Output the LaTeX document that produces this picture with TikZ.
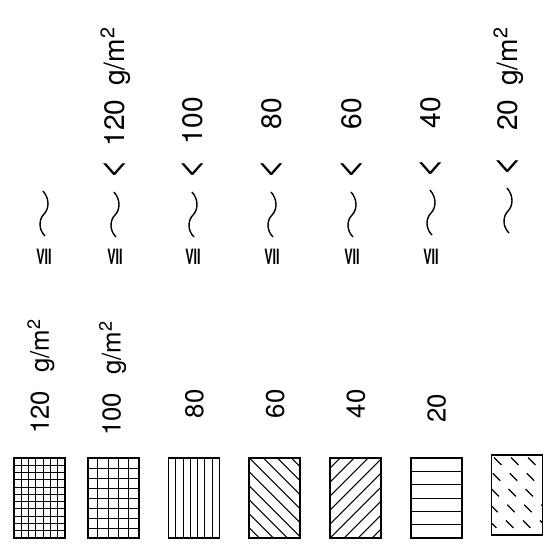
\documentclass[tikz,border=0pt]{standalone}
\usepackage{fontspec}
\setmainfont{TeX Gyre Heros}
\usetikzlibrary{positioning,calc}

\begin{document}
\begin{tikzpicture}[x=0.03cm, y=-0.03cm, node distance=0.84cm,
  lbl/.style={font=\fontsize{24}{24}\selectfont, rotate=90, anchor=east, inner sep=0pt, text height=17pt, text depth=0pt},
  sml/.style={lbl, font=\fontsize{22}{22}\selectfont, text height=16pt},
  rel/.style={font=\fontsize{30}{30}\selectfont, rotate=90, inner sep=0pt},
  rom/.style={font=\fontsize{18}{18}\selectfont\bfseries, inner sep=0pt},
  wave/.style={line width=1.2pt},
  legbox/.style={draw, line width=1.5pt, minimum width=1.53cm, minimum height=2.4cm, inner sep=0pt},
  fill line/.style={line width=0.8pt},
  vl/.style={path picture={
    \foreach \i [evaluate=\i as \fr using \i/(#1+1)] in {1,...,#1}
      \draw[fill line] ($(path picture bounding box.north west)!\fr!(path picture bounding box.north east)$)
        -- ($(path picture bounding box.south west)!\fr!(path picture bounding box.south east)$);}},
  hl/.style={path picture={
    \foreach \i [evaluate=\i as \fr using \i/(#1+1)] in {1,...,#1}
      \draw[fill line] ($(path picture bounding box.north west)!\fr!(path picture bounding box.south west)$)
        -- ($(path picture bounding box.north east)!\fr!(path picture bounding box.south east)$);}},
  mesh/.style 2 args={path picture={
    \foreach \i [evaluate=\i as \fr using \i/(#1+1)] in {1,...,#1}
      \draw[fill line] ($(path picture bounding box.north west)!\fr!(path picture bounding box.north east)$)
        -- ($(path picture bounding box.south west)!\fr!(path picture bounding box.south east)$);
    \foreach \i [evaluate=\i as \fr using \i/(#2+1)] in {1,...,#2}
      \draw[fill line] ($(path picture bounding box.north west)!\fr!(path picture bounding box.south west)$)
        -- ($(path picture bounding box.north east)!\fr!(path picture bounding box.south east)$);}},
  dlr/.style={path picture={
    \foreach \k in {-6,...,4}
      \draw[line width=0.9pt] ([xshift=\k*0.42cm]path picture bounding box.north west) -- ++(90,90);}},
  dll/.style={path picture={
    \foreach \k in {-6,...,4}
      \draw[line width=0.9pt] ([xshift=\k*0.42cm]path picture bounding box.south west) -- ++(90,-90);}},
  ddash/.style={path picture={
    \foreach \k in {-5,...,3}
      \draw[line width=1pt, dash pattern=on 9pt off 10pt, dash phase=-3pt] ([xshift=\k*0.51cm]path picture bounding box.north west) -- ++(90,90);}}]
  \useasboundingbox (0,0) rectangle (544,554);

  % upper legend
  \foreach \c [count=\n] in {44,115,193,272,352,431}
    \node[rom] (r\n) at (\c,257) {\scalebox{0.6}[1]{VII}};
  \foreach \c/\a in {44/191, 115/192, 193/192, 272/192, 352/192, 431/190, 508/188}
    \draw[wave] (\c-1,\a) .. controls (\c+6,\a+8) and (\c+5,\a+18) .. (\c,\a+23)
      .. controls (\c-5,\a+28) and (\c-6,\a+38) .. (\c+1,\a+45);
  \foreach \c/\a [count=\n from 2] in {115/169, 193/169, 272/169, 352/169, 431/168, 508/166}
    \node[rel] (lt\n) at (\c,\a) {<};
  \node[lbl] (t120) at (115,27) {120\hspace{0.5em}g/m\textsuperscript{2}};
  \node[lbl] (t100) at (193,97) {100};
  \node[lbl] (t80) at (272,98) {80};
  \node[lbl] (t60) at (352,98) {60};
  \node[lbl] (t40) at (431,97) {40};
  \node[lbl] (t20) at (508,27) {20\hspace{0.5em}g/m\textsuperscript{2}};

  % lower legend
  \node[legbox, mesh={6}{10}] (b120) at (39.5,498) {};
  \node[legbox, mesh={4}{7}, right=0.63cm of b120] (b100) {};
  \node[legbox, vl=6, right=of b100] (b80) {};
  \node[legbox, dlr, right=of b80] (b60) {};
  \node[legbox, dll, right=of b60] (b40) {};
  \node[legbox, hl=5, right=of b40] (b20) {};
  \node[legbox, ddash, right=of b20, yshift=0.09cm] (b0) {};

  \node[sml] (l120) at ([yshift=4.14cm]b120.north) {120\hspace{0.7em}g/m\textsuperscript{2}};
  \node[sml] (l100) at ([yshift=4.08cm,xshift=-0.06cm]b100.north) {100\hspace{0.7em}g/m\textsuperscript{2}};
  \node[sml] (l80) at ([yshift=2.04cm]b80.north) {80};
  \node[sml] (l60) at ([yshift=2.04cm]b60.north) {60};
  \node[sml] (l40) at ([yshift=2.04cm]b40.north) {40};
  \node[sml] (l20) at ([yshift=1.9cm]b20.north) {20};
\end{tikzpicture}
\end{document}
